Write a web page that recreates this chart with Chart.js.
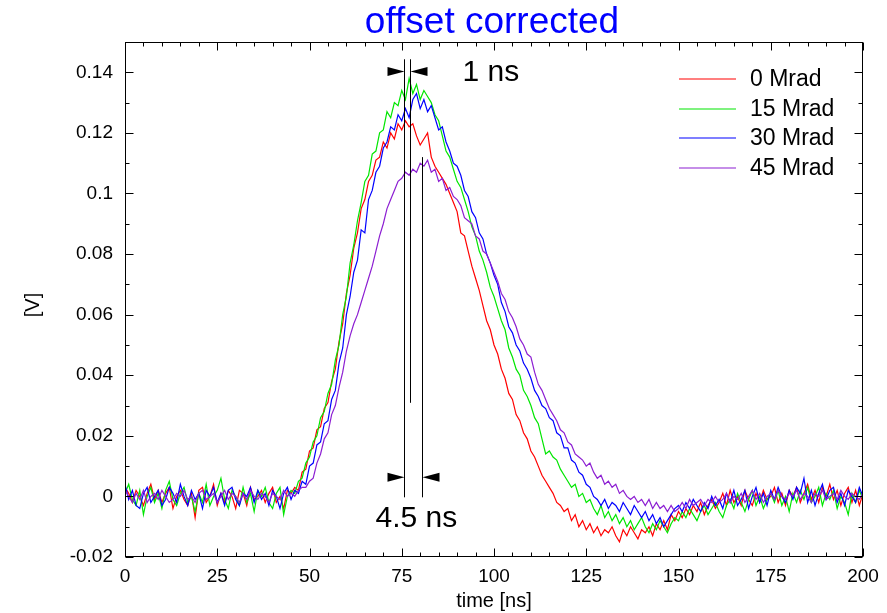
<!DOCTYPE html>
<html>
<head>
<meta charset="utf-8">
<script src="https://cdn.jsdelivr.net/npm/chart.js@4/dist/chart.umd.min.js"></script>
<style>
html,body{margin:0;padding:0;background:#fff;}
canvas{display:block;}
</style>
</head>
<body>
<canvas id="c" width="887" height="613"></canvas>
<script>
// ---- data ----
const times = [
0,1,2,3,4,5,6,7,8,9,10,11,12,13,14,15,16,17,18,19,20,21,22,23,24,25,26,27,28,29,
30,31,32,33,34,35,36,37,38,39,40,41,42,43,44,45,46,47,48,49,50,51,52,53,54,55,56,57,58,59,
60,61,62,63,64,65,66,67,68,69,70,71,72,73,74,75,76,77,78,79,80,81,82,83,84,85,86,87,88,89,
90,91,92,93,94,95,96,97,98,99,100,101,102,103,104,105,106,107,108,109,110,111,112,113,114,115,116,117,118,119,
120,121,122,123,124,125,126,127,128,129,130,131,132,133,134,135,136,137,138,139,140,141,142,143,144,145,146,147,148,149,
150,151,152,153,154,155,156,157,158,159,160,161,162,163,164,165,166,167,168,169,170,171,172,173,174,175,176,177,178,179,
180,181,182,183,184,185,186,187,188,189,190,191,192,193,194,195,196,197,198,199,200];

const seriesNames = ['0 Mrad', '15 Mrad', '30 Mrad', '45 Mrad'];

const mrad0 = [
0.003,0.001,-0.002,0.002,0.000,-0.003,0.001,0.004,-0.001,0.002,
-0.002,0.001,0.003,-0.004,0.000,0.002,-0.001,-0.003,0.001,-0.007,
0.002,0.003,-0.002,0.000,0.004,-0.003,0.001,-0.002,0.002,0.000,
-0.004,0.002,0.001,-0.003,0.003,-0.001,0.000,0.002,-0.002,0.001,
0.003,-0.002,0.000,-0.004,0.002,0.001,0.003,0.002,0.008,0.009,
0.015,0.016,0.022,0.023,0.029,0.031,0.038,0.042,0.051,0.057,
0.067,0.073,0.082,0.087,0.095,0.098,0.104,0.106,0.111,0.112,
0.117,0.115,0.120,0.118,0.123,0.121,0.124,0.122,0.123,0.119,
0.116,0.118,0.120,0.112,0.109,0.107,0.105,0.103,0.100,0.097,
0.094,0.087,0.086,0.081,0.076,0.072,0.068,0.063,0.058,0.055,
0.050,0.047,0.042,0.039,0.034,0.032,0.027,0.025,0.021,0.019,
0.015,0.013,0.010,0.007,0.005,0.003,0.001,-0.002,-0.003,-0.005,
-0.004,-0.008,-0.006,-0.010,-0.008,-0.011,-0.009,-0.012,-0.010,-0.013,
-0.011,-0.012,-0.010,-0.013,-0.015,-0.011,-0.013,-0.010,-0.012,-0.014,
-0.011,-0.012,-0.010,-0.013,-0.009,-0.011,-0.008,-0.011,-0.006,-0.008,
-0.005,-0.007,-0.004,-0.006,-0.003,-0.005,-0.002,-0.006,-0.003,-0.001,
-0.004,-0.002,0.001,-0.003,0.002,-0.002,0.000,-0.003,0.002,-0.001,
-0.003,0.001,-0.002,0.002,-0.001,0.000,0.003,-0.002,0.001,-0.003,
0.002,0.000,0.003,-0.002,0.001,0.004,-0.001,0.002,-0.002,0.003,
0.000,0.004,-0.001,0.002,-0.003,0.001,0.003,-0.002,0.002,-0.003,
0.001];

const mrad15 = [
0.001,0.004,-0.001,-0.003,0.002,-0.006,0.000,0.003,-0.002,0.001,
-0.004,0.002,0.005,-0.001,-0.003,0.001,0.003,-0.002,0.000,-0.005,
0.001,-0.002,0.004,-0.003,0.000,0.002,0.006,-0.001,-0.004,0.002,
0.000,-0.003,0.003,-0.002,0.001,-0.005,0.002,0.000,0.003,-0.002,
-0.004,0.001,0.003,-0.006,0.000,0.002,0.001,0.005,0.006,0.011,
0.013,0.018,0.020,0.026,0.028,0.034,0.037,0.045,0.050,0.060,
0.066,0.077,0.083,0.091,0.097,0.104,0.106,0.113,0.114,0.120,
0.121,0.127,0.125,0.130,0.129,0.134,0.131,0.138,0.133,0.136,
0.131,0.134,0.132,0.130,0.126,0.124,0.119,0.114,0.112,0.108,
0.104,0.102,0.098,0.094,0.089,0.086,0.081,0.078,0.074,0.069,
0.066,0.062,0.058,0.055,0.049,0.046,0.042,0.040,0.035,0.033,
0.030,0.026,0.024,0.019,0.014,0.015,0.013,0.012,0.009,0.007,
0.005,0.003,0.004,0.000,0.001,-0.002,-0.001,-0.004,-0.006,-0.003,
-0.007,-0.005,-0.008,-0.006,-0.009,-0.007,-0.010,-0.008,-0.011,-0.009,
-0.007,-0.010,-0.012,-0.009,-0.011,-0.008,-0.010,-0.012,-0.009,-0.007,
-0.008,-0.005,-0.007,-0.004,-0.006,-0.008,-0.005,-0.003,-0.006,-0.004,
-0.002,-0.005,-0.007,-0.003,-0.001,-0.004,0.001,-0.002,-0.005,-0.001,
0.002,-0.003,0.000,-0.004,-0.001,0.001,-0.002,0.002,-0.003,0.000,
-0.005,0.001,-0.002,0.002,-0.001,0.003,-0.002,0.000,0.003,-0.003,
0.001,-0.001,0.002,-0.004,0.000,-0.002,-0.006,0.001,-0.002,0.002,
-0.001];

const mrad30 = [
0.004,-0.001,0.002,-0.003,-0.004,0.001,0.003,-0.002,0.000,0.002,
-0.003,-0.001,0.003,0.001,-0.002,0.004,0.000,-0.003,0.002,-0.001,
0.001,-0.004,0.002,0.000,0.003,-0.002,0.001,-0.003,0.002,0.003,
-0.001,-0.003,0.001,0.000,0.003,-0.002,0.002,-0.001,0.001,-0.003,
0.002,0.000,-0.004,0.001,0.003,-0.001,0.002,0.001,0.005,0.004,
0.010,0.011,0.017,0.018,0.024,0.025,0.032,0.035,0.044,0.049,
0.060,0.066,0.074,0.078,0.088,0.087,0.098,0.101,0.107,0.109,
0.115,0.117,0.122,0.121,0.126,0.124,0.128,0.125,0.131,0.133,
0.128,0.131,0.127,0.129,0.125,0.121,0.122,0.117,0.114,0.110,
0.109,0.106,0.101,0.099,0.094,0.092,0.087,0.085,0.080,0.077,
0.073,0.070,0.064,0.061,0.056,0.054,0.050,0.048,0.044,0.042,
0.039,0.035,0.033,0.030,0.029,0.026,0.025,0.021,0.020,0.016,
0.016,0.012,0.011,0.008,0.007,0.004,0.003,0.000,-0.001,-0.003,
-0.001,-0.004,-0.002,-0.003,-0.005,-0.002,-0.004,-0.006,-0.003,-0.005,
-0.007,-0.005,-0.008,-0.006,-0.009,-0.007,-0.010,-0.008,-0.006,-0.004,
-0.003,-0.005,-0.002,-0.004,-0.001,-0.003,-0.005,-0.002,-0.004,0.000,
-0.003,-0.001,-0.004,0.001,-0.002,0.002,-0.003,-0.001,0.002,-0.004,
0.000,0.003,-0.002,0.001,-0.003,0.002,-0.001,0.003,0.000,-0.002,
0.002,-0.001,0.003,0.001,0.006,-0.002,0.002,-0.003,0.001,0.004,
-0.001,0.002,0.003,-0.002,0.001,-0.003,0.002,0.000,-0.002,0.003,
0.000];

const mrad45 = [
0.002,0.000,-0.002,0.001,-0.001,0.002,-0.002,0.000,0.001,-0.001,
0.002,0.000,-0.002,-0.001,0.001,0.000,0.002,-0.001,0.000,-0.002,
0.001,0.002,-0.001,0.000,0.001,-0.002,0.000,0.002,-0.001,0.001,
0.000,-0.002,0.001,-0.001,0.002,0.000,-0.001,0.001,0.000,-0.002,
0.001,0.000,-0.001,0.002,0.000,0.001,0.000,0.002,0.003,0.003,
0.005,0.006,0.011,0.014,0.019,0.021,0.027,0.030,0.036,0.041,
0.048,0.053,0.057,0.060,0.064,0.068,0.072,0.076,0.081,0.086,
0.090,0.095,0.098,0.101,0.104,0.105,0.107,0.106,0.108,0.107,
0.110,0.109,0.111,0.107,0.108,0.104,0.105,0.101,0.102,0.099,
0.098,0.096,0.092,0.091,0.090,0.086,0.085,0.081,0.080,0.077,
0.074,0.071,0.067,0.065,0.061,0.059,0.056,0.052,0.050,0.047,
0.046,0.041,0.037,0.035,0.032,0.029,0.027,0.025,0.022,0.021,
0.018,0.017,0.014,0.013,0.012,0.010,0.011,0.008,0.006,0.007,
0.004,0.005,0.003,0.004,0.001,0.002,0.000,-0.001,0.000,-0.002,
-0.001,-0.003,-0.001,-0.004,-0.002,-0.004,-0.003,-0.005,-0.003,-0.005,
-0.004,-0.002,-0.004,-0.001,-0.003,-0.002,-0.001,-0.003,-0.001,-0.002,
0.000,-0.002,-0.001,0.001,-0.002,0.000,-0.001,0.001,-0.002,0.000,
0.002,-0.001,0.001,-0.002,0.000,0.001,-0.001,0.002,0.000,-0.001,
0.001,0.000,0.002,-0.001,0.001,0.000,-0.002,0.001,0.000,0.002,
-0.001,0.000,0.001,-0.001,0.002,0.000,-0.001,0.001,0.000,-0.001,
0.001];

const seriesColors = ['#ff0000', '#00e600', '#0000ff', '#8c1ed2'];

// x tick labels / y tick labels
const xTicks = [0, 25, 50, 75, 100, 125, 150, 175, 200];
const yTicks = [-0.02, 0, 0.02, 0.04, 0.06, 0.08, 0.1, 0.12, 0.14];

// annotation markers (ns) and their vertical extents (V)
const markerTimes = [75.7, 77.2, 80.5];
const markerTop = [0.1443, 0.1443, 0.112];
const markerBottom = [-0.0003, 0.0309, -0.0003];
const labelNarrow = '1 ns';
const labelWide = '4.5 ns';
const titleText = 'offset corrected';
const xTitle = 'time [ns]';
const yTitle = '[V]';

// ---- chart ----
const FONT = "'Liberation Sans', Arial, Helvetica, sans-serif";

function tri(ctx, tipX, y, dir, len, half) {
  ctx.beginPath();
  ctx.moveTo(tipX, y);
  ctx.lineTo(tipX - dir * len, y - half);
  ctx.lineTo(tipX - dir * len, y + half);
  ctx.closePath();
  ctx.fill();
}

const decor = {
  id: 'decor',
  afterDraw(chart) {
    const ctx = chart.ctx;
    const a = chart.chartArea;
    const xs = chart.scales.x, ys = chart.scales.y;
    ctx.save();
    ctx.strokeStyle = '#000';
    ctx.fillStyle = '#000';
    ctx.lineWidth = 1;
    // frame
    const L = Math.round(a.left) + 0.5, R = Math.round(a.right) - 0.5;
    const T = Math.round(a.top) + 0.5, B = Math.round(a.bottom) - 0.5;
    ctx.strokeRect(L, T, R - L, B - T);
    // ticks
    ctx.beginPath();
    for (let v = 0; v <= 200; v += 5) {
      const px = Math.round(xs.getPixelForValue(v)) + 0.5;
      const len = (v % 25 === 0) ? 8 : 4;
      ctx.moveTo(px, B); ctx.lineTo(px, B - len);
      ctx.moveTo(px, T); ctx.lineTo(px, T + len);
    }
    for (let k = -2; k <= 15; k++) {
      const py = Math.round(ys.getPixelForValue(k / 100)) + 0.5;
      const len = (k % 2 === 0) ? 8 : 4;
      ctx.moveTo(L, py); ctx.lineTo(L + len, py);
      ctx.moveTo(R, py); ctx.lineTo(R - len, py);
    }
    ctx.stroke();

    // marker lines
    ctx.beginPath();
    markerTimes.forEach((t, i) => {
      const px = Math.round(xs.getPixelForValue(t)) + 0.5;
      ctx.moveTo(px, ys.getPixelForValue(markerTop[i]));
      ctx.lineTo(px, ys.getPixelForValue(markerBottom[i]));
    });
    ctx.stroke();
    // arrows
    const p0 = Math.round(xs.getPixelForValue(markerTimes[0])) + 0.5;
    const p1 = Math.round(xs.getPixelForValue(markerTimes[1])) + 0.5;
    const p2 = Math.round(xs.getPixelForValue(markerTimes[2])) + 0.5;
    const yUp = ys.getPixelForValue(0.1403);
    const yDn = ys.getPixelForValue(0.0063);
    tri(ctx, p0, yUp, 1, 17, 4.5);
    tri(ctx, p1, yUp, -1, 17, 4.5);
    tri(ctx, p0, yDn, 1, 17, 4.5);
    tri(ctx, p2, yDn, -1, 17, 4.5);

    ctx.font = '30px ' + FONT;
    ctx.textBaseline = 'middle';
    ctx.textAlign = 'left';
    ctx.fillText(labelNarrow, p1 + 52, yUp + 1);
    ctx.fillText(labelWide, p0 - 29, ys.getPixelForValue(-0.0073));

    // title
    ctx.fillStyle = '#0000ff';
    ctx.font = '37px ' + FONT;
    ctx.textAlign = 'center';
    ctx.textBaseline = 'alphabetic';
    ctx.fillText(titleText, (a.left + a.right) / 2 - 2, 33);

    // axis titles
    ctx.fillStyle = '#000';
    ctx.font = '20px ' + FONT;
    ctx.textBaseline = 'middle';
    ctx.fillText(xTitle, (a.left + a.right) / 2, 601);
    ctx.save();
    ctx.translate(33, 305);
    ctx.rotate(-Math.PI / 2);
    ctx.fillText(yTitle, 0, 0);
    ctx.restore();

    // legend
    ctx.font = '23px ' + FONT;
    ctx.textAlign = 'left';
    seriesNames.forEach((name, i) => {
      const y = Math.round(79 + i * 29.7);
      ctx.strokeStyle = seriesColors[i];
      ctx.lineWidth = 1.2;
      ctx.beginPath();
      ctx.moveTo(679, y); ctx.lineTo(736, y);
      ctx.stroke();
      ctx.fillStyle = '#000';
      ctx.fillText(name, 750, y + 1);
    });
    ctx.restore();
  }
};

const seriesValues = [mrad0, mrad15, mrad30, mrad45];
const datasets = seriesValues.map((vals, i) => ({
  label: seriesNames[i],
  data: times.map((t, j) => ({ x: t, y: vals[j] })),
  borderColor: seriesColors[i],
  backgroundColor: seriesColors[i],
  borderWidth: 1.2,
  pointRadius: 0,
  tension: 0,
  fill: false,
  order: 4 - i
}));

new Chart(document.getElementById('c'), {
  type: 'line',
  data: { datasets },
  options: {
    responsive: false,
    animation: false,
    devicePixelRatio: 1,
    layout: { padding: { left: 0, right: 24, top: 42, bottom: 0 } },
    plugins: { legend: { display: false }, tooltip: { enabled: false }, title: { display: false } },
    scales: {
      x: {
        type: 'linear', min: 0, max: 200,
        grid: { display: false, drawTicks: false },
        border: { display: false },
        afterBuildTicks(s) { s.ticks = xTicks.map(v => ({ value: v })); },
        ticks: {
          padding: 8, color: '#000', maxRotation: 0, autoSkip: false,
          font: { family: FONT, size: 19 },
          callback: v => String(v)
        },
        afterFit(s) { s.height = 56; }
      },
      y: {
        type: 'linear', min: -0.02, max: 0.15,
        grid: { display: false, drawTicks: false },
        border: { display: false },
        afterBuildTicks(s) { s.ticks = yTicks.map(v => ({ value: v })); },
        ticks: {
          padding: 12, color: '#000', autoSkip: false,
          font: { family: FONT, size: 19 },
          callback: v => String(Math.round(v * 1000) / 1000)
        },
        afterFit(s) { s.width = 125; }
      }
    }
  },
  plugins: [decor]
});
</script>
</body>
</html>
